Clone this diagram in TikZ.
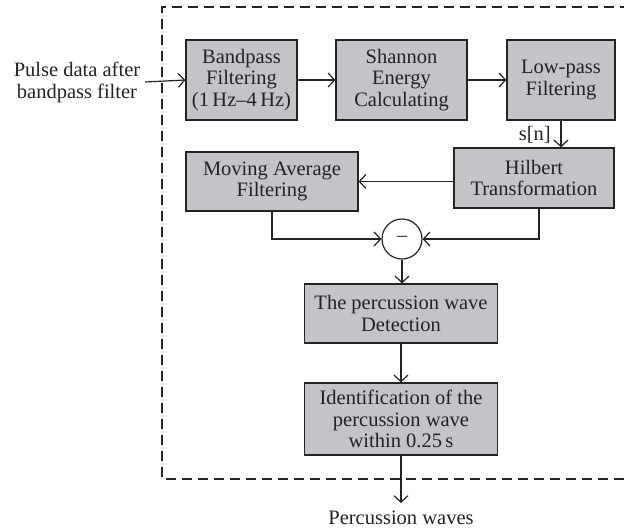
\documentclass[tikz,border=0pt]{standalone}
\usepackage{fontspec}
\setmainfont{Liberation Serif}
\usetikzlibrary{arrows.meta}
\definecolor{boxfill}{RGB}{195,196,200}
\definecolor{ink}{RGB}{35,35,35}
\tikzset{
  x=1pt, y=-1pt,
  blk/.style={draw=ink, fill=boxfill, line width=1.2pt, align=center, text=ink,
    font=\fontsize{20.5}{21.5}\selectfont, inner sep=0pt},
  lbl/.style={align=center, text=ink, font=\fontsize{20.5}{22}\selectfont, inner sep=0pt},
  conn/.style={draw=ink, line width=1.2pt, -{Straight Barb[length=6.5pt,width=14pt,line width=1.2pt]}},
}
\begin{document}
\begin{tikzpicture}
\useasboundingbox (0,0) rectangle (624,531);
\draw[ink, line width=1.2pt, dash pattern=on 10pt off 6pt] (630,7) -- (162,7) -- (162,479) -- (630,479);

\node[lbl] (in) at (77,82) {Pulse data after\\bandpass filter};
\coordinate (inS) at (145,82);

\node[blk, minimum width=111pt, minimum height=80pt] (bp) at (241.5,80) {Bandpass\\Filtering\\(1\,Hz–4\,Hz)};
\node[blk, minimum width=131pt, minimum height=80pt] (sh) at (401.5,80) {Shannon\\Energy\\Calculating};
\node[blk, minimum width=108pt, minimum height=80pt] (lp) at (561,80) {Low-pass\\Filtering};
\node[blk, minimum width=160pt, minimum height=60pt] (hb) at (534,178) {Hilbert\\Transformation};
\node[blk, minimum width=172pt, minimum height=59pt] (ma) at (272,181.5) {Moving Average\\Filtering};
\node[draw=ink, fill=white, line width=1.2pt, circle, minimum size=40pt, inner sep=0pt, text=ink,
  font=\fontsize{20}{20}\selectfont] (ci) at (402,239) {–};
\node[blk, minimum width=193pt, minimum height=59pt] (de) at (401,313.5) {The percussion wave\\Detection};
\node[blk, minimum width=193pt, minimum height=72pt] (id) at (401,419) {Identification of the\\percussion wave\\within 0.25\,s};
\coordinate (outE) at (401,503);
\node[lbl] (out) at (401,518) {Percussion waves};
\node[lbl, anchor=east] (sn) at (551,135) {s[n]};

\draw[conn] (inS) -- (bp.west);
\draw[conn] (bp) -- (sh);
\draw[conn] (sh) -- (lp);
\draw[conn] (lp) -- (hb.north -| lp);
\draw[conn] (hb.west |- ma.east) -- (ma.east);
\draw[conn] (ma.south) |- (ci.west);
\draw[conn] ([xshift=5pt]hb.south) |- (ci.east);
\draw[conn] (ci.south) -- (de.north -| ci);
\draw[conn] (de) -- (id);
\draw[conn] (id) -- (outE);
\end{tikzpicture}
\end{document}
